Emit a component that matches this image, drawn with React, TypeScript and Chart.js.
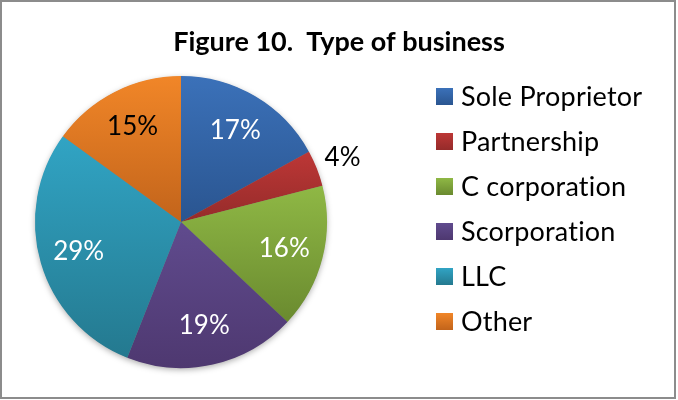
import { useEffect, useRef } from 'react';
import { Chart, registerables } from 'chart.js';

Chart.register(...registerables);

const categories = ['Sole Proprietor', 'Partnership', 'C corporation', 'Scorporation', 'LLC', 'Other'];
const shares = [17, 4, 16, 19, 29, 15];
const topColors = ['#3b71b9', '#bd3736', '#8fb845', '#604b8e', '#31a4c4', '#f18628'];
const bottomColors = ['#2a5590', '#952b2a', '#6a8a2f', '#4e3870', '#24798f', '#c2641b'];
const labelColors = ['#ffffff', '#000000', '#ffffff', '#ffffff', '#ffffff', '#000000'];
const titleText = 'Figure 10.  Type of business';

const FONT = 'Lato, "Noto Sans", sans-serif';

function sliceGradient(ctx: any) {
  const chart = ctx.chart;
  const area = chart.chartArea;
  const i = ctx.dataIndex;
  if (!area) return topColors[i];
  const data = ctx.dataset.data as number[];
  const total = data.reduce((a, b) => a + b, 0);
  let cum = 0;
  for (let k = 0; k < i; k++) cum += data[k];
  const a0 = -Math.PI / 2 + (2 * Math.PI * cum) / total;
  const a1 = a0 + (2 * Math.PI * data[i]) / total;
  const cx = (area.left + area.right) / 2;
  const cy = (area.top + area.bottom) / 2;
  const r = Math.min(area.width, area.height) / 2;
  let minY = cy;
  let maxY = cy;
  for (let s = 0; s <= 48; s++) {
    const a = a0 + ((a1 - a0) * s) / 48;
    const y = cy + r * Math.sin(a);
    minY = Math.min(minY, y);
    maxY = Math.max(maxY, y);
  }
  const g = chart.ctx.createLinearGradient(0, minY, 0, maxY + 0.01);
  g.addColorStop(0, topColors[i]);
  g.addColorStop(1, bottomColors[i]);
  return g;
}

const decorPlugin = {
  id: 'decor',
  beforeDatasetsDraw(chart: any) {
    const meta = chart.getDatasetMeta(0);
    const arc = meta.data[0];
    if (!arc) return;
    const { x, y, outerRadius } = arc.getProps(['x', 'y', 'outerRadius'], true);
    const ctx = chart.ctx;
    ctx.save();
    ctx.shadowColor = 'rgba(0,0,0,0.35)';
    ctx.shadowBlur = 6;
    ctx.shadowOffsetY = 2;
    ctx.fillStyle = '#7f7f7f';
    ctx.beginPath();
    ctx.arc(x, y, outerRadius - 0.5, 0, Math.PI * 2);
    ctx.fill();
    ctx.restore();
  },
  afterDatasetsDraw(chart: any) {
    const ctx = chart.ctx;
    const meta = chart.getDatasetMeta(0);
    ctx.save();
    ctx.font = `26px ${FONT}`;
    ctx.textAlign = 'center';
    ctx.textBaseline = 'middle';
    meta.data.forEach((arc: any, i: number) => {
      const { x, y, startAngle, endAngle, outerRadius } = arc.getProps(
        ['x', 'y', 'startAngle', 'endAngle', 'outerRadius'],
        true
      );
      const mid = (startAngle + endAngle) / 2;
      const k = shares[i] < 6 ? 1.19 : 0.73;
      ctx.fillStyle = labelColors[i];
      ctx.fillText(`${shares[i]}%`, x + Math.cos(mid) * outerRadius * k, y + Math.sin(mid) * outerRadius * k);
    });
    ctx.restore();
  },
  afterDraw(chart: any) {
    const ctx = chart.ctx;
    const area = chart.chartArea;
    ctx.save();
    // title
    ctx.fillStyle = '#000000';
    ctx.font = `bold 27px ${FONT}`;
    ctx.textAlign = 'center';
    ctx.textBaseline = 'middle';
    ctx.fillText(titleText, chart.width / 2, 42);
    // legend
    const lx = area.right + 108;
    const rowH = 45;
    const firstY = (area.top + area.bottom) / 2 - 13 - rowH * 2.5;
    ctx.font = `27px ${FONT}`;
    ctx.textAlign = 'left';
    try {
      (ctx as any).letterSpacing = '0.2px';
    } catch (e) {
      /* ignore */
    }
    categories.forEach((name, i) => {
      const cy = firstY + i * rowH;
      const g = ctx.createLinearGradient(0, cy - 8.5, 0, cy + 8.5);
      g.addColorStop(0, topColors[i]);
      g.addColorStop(1, bottomColors[i]);
      ctx.fillStyle = g;
      ctx.fillRect(lx, cy - 8.5, 17, 17);
      ctx.fillStyle = '#000000';
      ctx.fillText(name, lx + 25, cy + 1);
    });
    // outer frame
    ctx.strokeStyle = '#8c8c8c';
    ctx.lineWidth = 2;
    ctx.strokeRect(1, 1, chart.width - 4, chart.height - 3);
    ctx.restore();
  },
};

export default function App() {
  const canvasRef = useRef<HTMLCanvasElement | null>(null);

  useEffect(() => {
    document.body.style.margin = '0';
    const canvas = canvasRef.current;
    if (!canvas) return;
    const chart = new Chart(canvas, {
      type: 'pie',
      data: {
        labels: categories,
        datasets: [
          {
            data: shares,
            backgroundColor: sliceGradient as any,
            borderWidth: 0,
            hoverOffset: 0,
          },
        ],
      },
      options: {
        responsive: false,
        animation: false,
        events: [],
        devicePixelRatio: 1,
        layout: { padding: { left: 34, right: 350, top: 76, bottom: 32 } },
        plugins: {
          legend: { display: false },
          title: { display: false },
          tooltip: { enabled: false },
        },
      },
      plugins: [decorPlugin],
    });
    return () => chart.destroy();
  }, []);

  return (
    <div style={{ width: 678, height: 400, background: '#ffffff' }}>
      <canvas ref={canvasRef} width={678} height={400} style={{ display: 'block' }} />
    </div>
  );
}
